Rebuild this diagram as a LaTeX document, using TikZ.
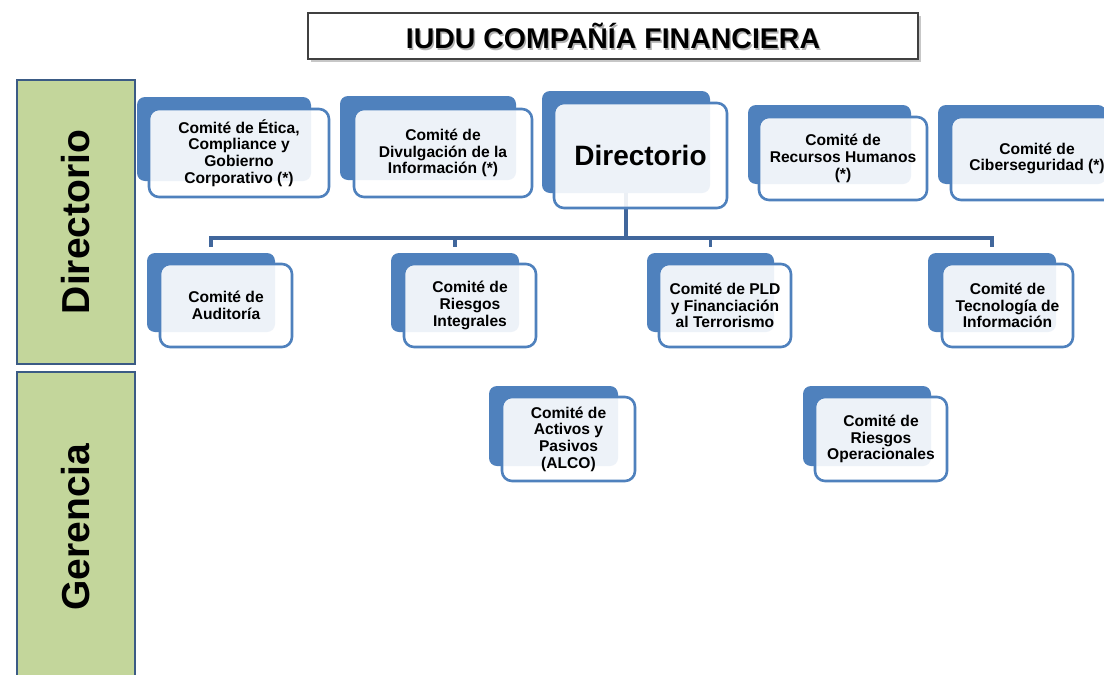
\documentclass[tikz,border=0pt]{standalone}
\usepackage{fontspec}
\setmainfont{Liberation Sans}
\usetikzlibrary{fit,backgrounds}
\definecolor{cblue}{HTML}{4F81BD}
\definecolor{lineblue}{HTML}{41679C}
\definecolor{bandgreen}{HTML}{C3D69B}
\definecolor{bandborder}{HTML}{3B5B85}
\definecolor{titleborder}{HTML}{404040}
\newcommand{\cfont}{\bfseries\fontsize{15.6}{16.7}\selectfont}
\tikzset{
  backbox/.style={fill=cblue, rounded corners=8pt, inner sep=0pt, outer sep=0pt},
  frontbox/.style={draw=cblue, line width=2.6pt, fill=white, fill opacity=0.9, text opacity=1,
    rounded corners=10pt, inner sep=0pt, outer sep=0pt, align=center, font=\cfont, text=black},
  conn/.style={draw=lineblue, line width=3.4pt},
  band/.style={draw=bandborder, line width=2.2pt, fill=bandgreen, inner sep=0pt},
  bandtext/.style={font=\bfseries\fontsize{39}{40}\selectfont, rotate=90, text=black},
}
\begin{document}
\begin{tikzpicture}[x=1pt,y=-1pt]
\useasboundingbox (0,0) rectangle (1104,675);
\fill[white] (0,0) rectangle (1104,675);

% title
\fill[black!22] (311,16) rectangle (921,62);
\node[draw=titleborder, line width=1.2pt, fill=white, inner sep=0pt, minimum width=610pt, minimum height=46pt] (title) at (613,36) {};
\node[text=black!30, font=\bfseries\fontsize{28.5}{30}\selectfont] at ([shift={(1.5pt,-1.5pt)}]title.center) {IUDU COMPAÑÍA FINANCIERA};
\node[font=\bfseries\fontsize{28.5}{30}\selectfont] (titletext) at (title.center) {IUDU COMPAÑÍA FINANCIERA};

% bands
\node[band, fit={(17,80)(135,364)}] (bandDir) {};
\node[bandtext] at (76,222) {Directorio};
\node[band, fit={(17,372)(135,690)}] (bandGer) {};
\node[bandtext] at (76,527) {Gerencia};

% back boxes
\node[backbox, fit={(137,97)(311,181)}] (bEtica) {};
\node[backbox, fit={(340,96)(516,180)}] (bDiv) {};
\node[backbox, fit={(542,91)(710,193)}] (bDir) {};
\node[backbox, fit={(748,105)(911,184)}] (bRRHH) {};
\node[backbox, fit={(938,105)(1106,184)}] (bCiber) {};
\node[backbox, fit={(147,253)(275,332)}] (bAud) {};
\node[backbox, fit={(391,253)(519,332)}] (bRies) {};
\node[backbox, fit={(647,253)(774,332)}] (bPLD) {};
\node[backbox, fit={(928,253)(1056,332)}] (bTec) {};
\node[backbox, fit={(489,386)(618,466)}] (bALCO) {};
\node[backbox, fit={(803,386)(931,466)}] (bOper) {};

% connectors (under the front boxes)
\coordinate (hub) at (bDir.south |- 0,238);
\draw[conn] (bDir.south) -- (hub);
\draw[conn] (hub) -| ([yshift=6pt]bAud.north);
\draw[conn] (hub) -| ([yshift=6pt]bRies.north);
\draw[conn] (hub) -| ([yshift=6pt]bPLD.north);
\draw[conn] (hub) -| ([yshift=6pt]bTec.north);

% front boxes
\node[frontbox, minimum width=180pt, minimum height=88pt] (fEtica) at (239,153) {Comité de Ética,\\Compliance y\\Gobierno\\Corporativo (*)};
\node[frontbox, minimum width=178pt, minimum height=88pt] (fDiv) at (443,153) {Comité de\\Divulgación de la\\Información (*)};
\node[frontbox, minimum width=173pt, minimum height=105pt, font=\bfseries\fontsize{28}{30}\selectfont] (fDir) at (640.5,155.5) {Directorio};
\node[frontbox, minimum width=168pt, minimum height=83pt] (fRRHH) at (843,158.5) {Comité de\\Recursos Humanos\\(*)};
\node[frontbox, minimum width=172pt, minimum height=83pt] (fCiber) at (1037,158.5) {Comité de\\Ciberseguridad (*)};
\node[frontbox, minimum width=132pt, minimum height=83pt] (fAud) at (226,305.5) {Comité de\\Auditoría};
\node[frontbox, minimum width=132pt, minimum height=83pt] (fRies) at (470,305.5) {Comité de\\Riesgos\\Integrales};
\node[frontbox, minimum width=132pt, minimum height=83pt] (fPLD) at (725,305.5) {Comité de PLD\\y Financiación\\al Terrorismo};
\node[frontbox, minimum width=131pt, minimum height=83pt] (fTec) at (1007.5,305.5) {Comité de\\Tecnología de\\Información};
\node[frontbox, minimum width=133pt, minimum height=84pt] (fALCO) at (568.5,439) {Comité de\\Activos y\\Pasivos\\(ALCO)};
\node[frontbox, minimum width=132pt, minimum height=84pt] (fOper) at (881,439) {Comité de\\Riesgos\\Operacionales};
\end{tikzpicture}
\end{document}
